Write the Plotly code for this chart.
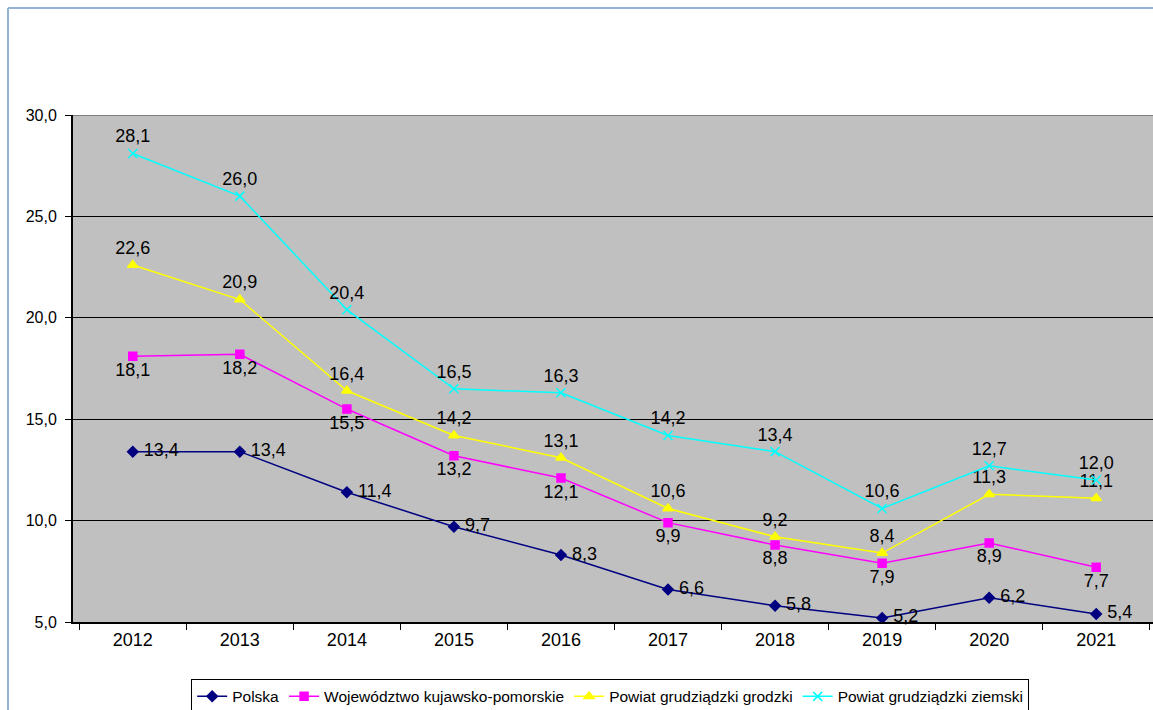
import plotly.graph_objects as go

years = ["2012", "2013", "2014", "2015", "2016", "2017", "2018", "2019", "2020", "2021"]

polska = [13.4, 13.4, 11.4, 9.7, 8.3, 6.6, 5.8, 5.2, 6.2, 5.4]
wojewodztwo = [18.1, 18.2, 15.5, 13.2, 12.1, 9.9, 8.8, 7.9, 8.9, 7.7]
grodzki = [22.6, 20.9, 16.4, 14.2, 13.1, 10.6, 9.2, 8.4, 11.3, 11.1]
ziemski = [28.1, 26.0, 20.4, 16.5, 16.3, 14.2, 13.4, 10.6, 12.7, 12.0]

# name, values, colour, marker, marker size, label position, label template
series = [
    ("Polska", polska, "#000080", "diamond", 8, "middle right", " %{y:.1f}"),
    ("Województwo kujawsko-pomorskie", wojewodztwo, "#FF00FF", "square", 8,
     "bottom center", "%{y:.1f}"),
    ("Powiat grudziądzki grodzki", grodzki, "#FFFF00", "triangle-up", 9,
     "top center", "%{y:.1f}"),
    ("Powiat grudziądzki ziemski", ziemski, "#00FFFF", "x-thin", 9,
     "top center", "%{y:.1f}"),
]

FONT = "Arial, Liberation Sans, sans-serif"

fig = go.Figure()

for name, values, color, symbol, size, pos, tmpl in series:
    fig.add_trace(
        go.Scatter(
            x=years,
            y=values,
            name=name,
            mode="lines+markers+text",
            line=dict(color=color, width=1.5),
            marker=dict(symbol=symbol, size=size, color=color,
                        line=dict(color=color, width=1.5)),
            texttemplate=tmpl,
            textposition=pos,
            textfont=dict(family=FONT, size=18, color="black"),
            cliponaxis=False,
        )
    )

# plot border at the top and the outer chart frame (light blue)
fig.add_shape(type="line", xref="paper", yref="y", x0=0, x1=1, y0=30, y1=30,
              line=dict(color="#808080", width=2))
fig.add_shape(type="line", xref="paper", yref="paper", x0=-0.0600, x1=1.01,
              y0=1.211, y1=1.211, line=dict(color="#95B3D7", width=2))
fig.add_shape(type="line", xref="paper", yref="paper", x0=-0.0600, x1=-0.0600,
              y0=1.211, y1=-0.2, line=dict(color="#95B3D7", width=2))

fig.update_layout(
    width=1156,
    height=710,
    margin=dict(l=73, r=0, t=115, b=88, autoexpand=False),
    paper_bgcolor="white",
    plot_bgcolor="#C0C0C0",
    separators=", ",
    font=dict(family=FONT, color="black"),
    showlegend=True,
    legend=dict(
        orientation="h",
        x=0.496,
        xanchor="center",
        y=-0.112,
        yanchor="top",
        bordercolor="black",
        borderwidth=1,
        font=dict(family=FONT, size=15.5),
        itemwidth=30,
        tracegroupgap=0,
    ),
)

fig.update_xaxes(
    type="category",
    showgrid=False,
    showline=True,
    linecolor="black",
    linewidth=2,
    ticks="outside",
    tickson="boundaries",
    ticklen=6,
    tickcolor="black",
    tickfont=dict(family=FONT, size=18),
)

fig.update_yaxes(
    range=[5, 30],
    dtick=5,
    tickformat=".1f",
    showgrid=True,
    gridcolor="black",
    gridwidth=1,
    zeroline=False,
    showline=True,
    linecolor="black",
    linewidth=2,
    ticks="outside",
    ticklen=6,
    tickcolor="black",
    ticklabelstandoff=5,
    tickfont=dict(family=FONT, size=16),
)

fig.write_html(
    "out.html",
    config={"displayModeBar": False},
    post_script="document.body.style.margin='0';document.body.style.overflow='hidden';",
)
